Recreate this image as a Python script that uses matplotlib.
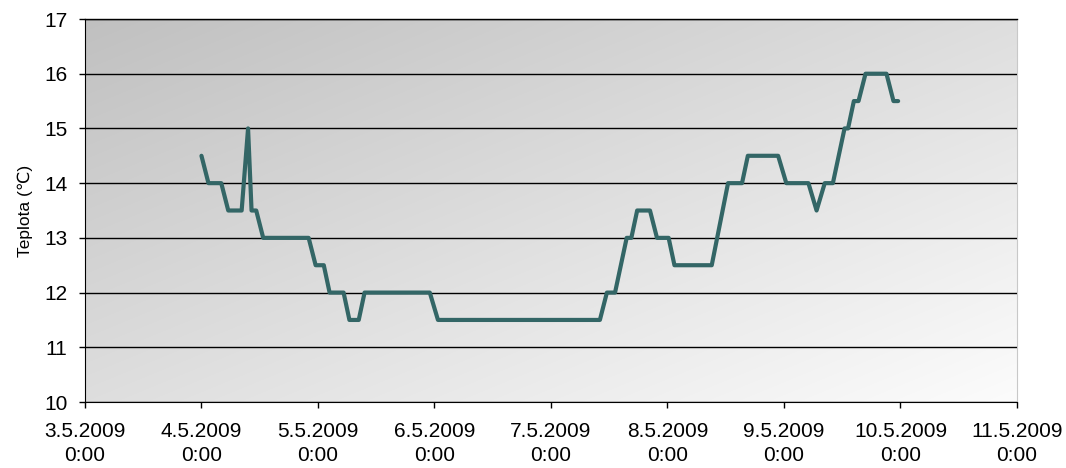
import numpy as np
from matplotlib import pyplot as plt

# časy měření ve dnech od 3.5.2009 0:00 a naměřená teplota
dny = [1.00, 1.06, 1.17, 1.23, 1.345, 1.40, 1.43, 1.47, 1.53, 1.92, 1.98, 2.05,
       2.10, 2.22, 2.27, 2.35, 2.40, 2.96, 3.03, 4.42, 4.48, 4.55, 4.65, 4.69,
       4.74, 4.85, 4.91, 5.01, 5.06, 5.38, 5.52, 5.64, 5.69, 5.95, 6.02, 6.21,
       6.28, 6.35, 6.42, 6.52, 6.55, 6.60, 6.64, 6.70, 6.88, 6.94, 6.98]
teplota = [14.5, 14.0, 14.0, 13.5, 13.5, 15.0, 13.5, 13.5, 13.0, 13.0, 12.5, 12.5,
           12.0, 12.0, 11.5, 11.5, 12.0, 12.0, 11.5, 11.5, 12.0, 12.0, 13.0, 13.0,
           13.5, 13.5, 13.0, 13.0, 12.5, 12.5, 14.0, 14.0, 14.5, 14.5, 14.0, 14.0,
           13.5, 14.0, 14.0, 15.0, 15.0, 15.5, 15.5, 16.0, 16.0, 15.5, 15.5]

popisky_x = [f"{d}.5.2009\n0:00" for d in range(3, 12)]

plt.rcParams['font.family'] = ['Liberation Sans', 'DejaVu Sans']

fig = plt.figure(figsize=(10.66, 4.68), dpi=100)
ax = fig.add_axes([0.0797, 0.141, 0.8743, 0.8184])

# šedý přechod pozadí (vlevo nahoře tmavší, vpravo dole skoro bílá)
gx, gy = np.meshgrid(np.linspace(0, 1, 400), np.linspace(0, 1, 400))
sv = (192 + 60 * (gx + gy) / 2) / 255
pozadi = np.dstack([sv, sv, sv])
ax.imshow(pozadi, extent=[0, 8, 10, 17], aspect='auto', origin='upper',
          zorder=0, interpolation='bilinear')

ax.plot(dny, teplota, color="#336666", linewidth=3, solid_joinstyle='round',
        solid_capstyle='round', zorder=3)

ax.set_xlim(0, 8)
ax.set_ylim(10, 17)
ax.set_yticks(range(10, 18))
ax.set_xticks(range(0, 9))
ax.set_xticklabels(popisky_x, linespacing=1.35)
ax.grid(axis='y', color='black', linewidth=1, zorder=1)
ax.set_axisbelow(False)

ax.spines['right'].set_color('#c8c8c8')
ax.spines['top'].set_linewidth(1)
ax.tick_params(axis='y', length=4.5, width=1, pad=8, labelsize=15)
ax.tick_params(axis='x', length=4.5, width=1, pad=10, labelsize=15)
ax.set_ylabel("Teplota (℃)", fontsize=12.5, labelpad=8)

fig.savefig("out.png", dpi=100)
